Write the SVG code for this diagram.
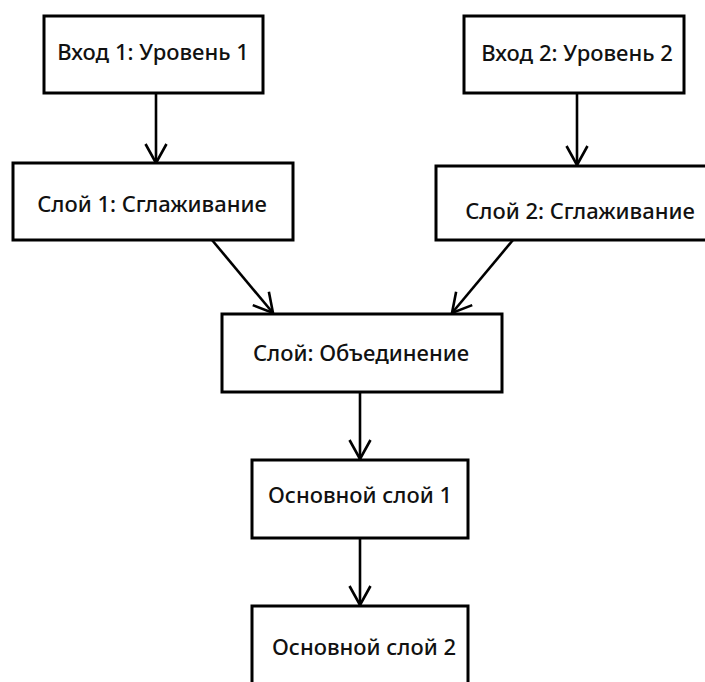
<svg xmlns="http://www.w3.org/2000/svg" width="705" height="682" viewBox="0 0 705 682">
<style>
.box{fill:#fff;stroke:#000;stroke-width:3}
.lbl{font-family:"Noto Sans","Open Sans","DejaVu Sans",sans-serif;font-size:22px;font-weight:500;fill:#111;text-anchor:middle}
.edge{fill:none;stroke:#000;stroke-width:2.6}
</style>
<defs>
<marker id="arr" viewBox="-22 -13 26 26" refX="0" refY="0" markerWidth="26" markerHeight="26" markerUnits="userSpaceOnUse" orient="auto">
<path d="M-19,-10.5 L0,0 L-19,10.5" fill="none" stroke="#000" stroke-width="2.6"/>
</marker>
</defs>
<rect width="705" height="682" fill="#fff"/>
<g id="connectors">
<line class="edge" x1="156" y1="93" x2="156" y2="163" marker-end="url(#arr)"/>
<line class="edge" x1="577" y1="93" x2="577" y2="165" marker-end="url(#arr)"/>
<line class="edge" x1="212" y1="240" x2="273" y2="313" marker-end="url(#arr)"/>
<line class="edge" x1="513" y1="240" x2="452" y2="313" marker-end="url(#arr)"/>
<line class="edge" x1="360" y1="392" x2="360" y2="459" marker-end="url(#arr)"/>
<line class="edge" x1="360" y1="538" x2="360" y2="605" marker-end="url(#arr)"/>
</g>
<g id="in1">
<rect class="box" x="44" y="16" width="219" height="77"/>
<text class="lbl" x="153" y="60">Вход 1: Уровень 1</text>
</g>
<g id="in2">
<rect class="box" x="464" y="16" width="220" height="77"/>
<text class="lbl" x="577" y="61">Вход 2: Уровень 2</text>
</g>
<g id="flat1">
<rect class="box" x="13" y="163" width="280" height="77"/>
<text class="lbl" x="152" y="212">Слой 1: Сглаживание</text>
</g>
<g id="flat2">
<rect class="box" x="436" y="166" width="274" height="74"/>
<text class="lbl" x="580" y="219">Слой 2: Сглаживание</text>
</g>
<g id="merge">
<rect class="box" x="222" y="314" width="280" height="78"/>
<text class="lbl" x="361" y="361">Слой: Объединение</text>
</g>
<g id="core1">
<rect class="box" x="252" y="460" width="216" height="78"/>
<text class="lbl" x="360" y="503">Основной слой 1</text>
</g>
<g id="core2">
<rect class="box" x="252" y="606" width="216" height="90"/>
<text class="lbl" x="364" y="655">Основной слой 2</text>
</g>
</svg>
